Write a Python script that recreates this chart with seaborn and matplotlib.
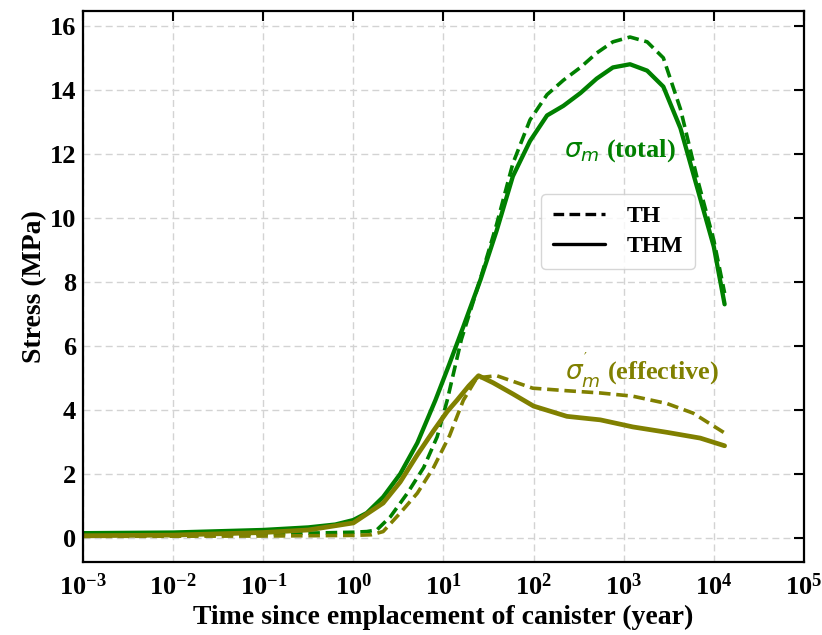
import matplotlib
matplotlib.use("Agg")
import matplotlib.pyplot as plt
import matplotlib.ticker as mticker
from matplotlib.lines import Line2D
import seaborn as sns

# ---- data (time in years, stress in MPa) ----
t_thm_total = [0.001, 0.01, 0.1, 0.316, 0.631, 1.0, 1.41, 2.14, 3.31, 5.13, 8.13,
               11.5, 16.6, 25.7, 38.9, 58.9, 91.2, 141, 214, 331, 501, 759, 1175,
               1820, 2754, 4266, 6457, 10000, 13183]
s_thm_total = [0.15, 0.17, 0.25, 0.33, 0.42, 0.56, 0.78, 1.28, 2.0, 2.97, 4.3,
               5.4, 6.6, 8.06, 9.6, 11.3, 12.4, 13.2, 13.5, 13.9, 14.35, 14.7, 14.8,
               14.6, 14.1, 12.8, 11.0, 9.1, 7.3]

t_th_total = [0.001, 0.01, 0.1, 0.316, 1.0, 1.41, 1.82, 2.57, 3.98, 6.03, 8.51,
              11.0, 15.8, 25.7, 38.9, 58.9, 91.2, 141, 214, 331, 501, 759,
              1175, 1820, 2754, 4266, 6457, 10000, 13183]
s_th_total = [0.1, 0.1, 0.12, 0.15, 0.18, 0.2, 0.25, 0.66, 1.4, 2.2, 3.16,
              4.3, 6.2, 8.1, 9.8, 11.7, 13.06, 13.85, 14.3, 14.7, 15.15, 15.5,
              15.65, 15.5, 15.0, 13.4, 11.3, 9.3, 7.65]

t_thm_eff = [0.001, 0.01, 0.1, 0.316, 1.0, 2.14, 3.31, 5.13, 7.76, 11.0, 14.1,
             19.1, 24.5, 35.5, 58.9, 100, 234, 550, 1259, 3020, 7079, 13183]
s_thm_eff = [0.07, 0.09, 0.17, 0.25, 0.47, 1.09, 1.75, 2.6, 3.35, 3.95, 4.3,
             4.75, 5.07, 4.85, 4.5, 4.12, 3.8, 3.69, 3.47, 3.3, 3.12, 2.88]

t_th_eff = [0.001, 0.1, 1.0, 1.58, 2.14, 3.31, 5.13, 7.76, 11.7, 16.6, 23.4,
            38.9, 97.7, 234, 550, 1259, 3020, 5888, 13183]
s_th_eff = [0.05, 0.06, 0.08, 0.1, 0.2, 0.78, 1.4, 2.2, 3.2, 4.3, 5.0,
            5.07, 4.68, 4.6, 4.53, 4.43, 4.2, 3.9, 3.28]

legend_labels = ["TH", "THM"]
x_label = "Time since emplacement of canister (year)"
y_label = "Stress (MPa)"

GREEN = "#008000"
OLIVE = "#808000"

sns.set_style("white")
plt.rcParams["font.family"] = ["Liberation Serif", "DejaVu Serif"]
plt.rcParams["font.weight"] = "bold"
plt.rcParams["mathtext.fontset"] = "custom"
plt.rcParams["mathtext.it"] = "DejaVu Sans:style=italic:weight=normal"
plt.rcParams["mathtext.rm"] = "DejaVu Sans:weight=normal"
plt.rcParams["mathtext.bf"] = "DejaVu Sans:weight=bold"
plt.rcParams["text.color"] = "black"
plt.rcParams["xtick.color"] = "black"
plt.rcParams["ytick.color"] = "black"
plt.rcParams["axes.labelcolor"] = "black"

fig = plt.figure(figsize=(8.22, 6.35), dpi=100)
ax = fig.add_axes([0.101, 0.115, 0.877, 0.868])

lw = 2.6
dash = (0, (3.2, 1.6))
sns.lineplot(x=t_th_total, y=s_th_total, ax=ax, color=GREEN, lw=lw,
             linestyle=dash, sort=False, estimator=None)
sns.lineplot(x=t_thm_total, y=s_thm_total, ax=ax, color=GREEN, lw=lw + 0.5,
             sort=False, estimator=None)
sns.lineplot(x=t_th_eff, y=s_th_eff, ax=ax, color=OLIVE, lw=lw,
             linestyle=dash, sort=False, estimator=None)
sns.lineplot(x=t_thm_eff, y=s_thm_eff, ax=ax, color=OLIVE, lw=lw + 0.8,
             sort=False, estimator=None)

ax.set_xscale("log")
ax.set_xlim(1e-3, 1e5)
ax.set_ylim(-0.75, 16.47)
ax.xaxis.set_major_locator(mticker.LogLocator(base=10, numticks=20))
ax.xaxis.set_minor_locator(mticker.NullLocator())
ax.set_yticks([0, 2, 4, 6, 8, 10, 12, 14, 16])

ax.grid(True, color="#d3d3d3", linestyle=(0, (5, 3)), linewidth=1.0)
for s in ax.spines.values():
    s.set_linewidth(1.6)
    s.set_color("black")
ax.tick_params(which="major", direction="in", length=7, width=1.5,
               top=True, right=True, labelsize=19)
ax.tick_params(axis="x", pad=8)
ax.tick_params(axis="y", pad=5)
for lab in ax.get_xticklabels() + ax.get_yticklabels():
    lab.set_fontweight("bold")

ax.set_xlabel(x_label, fontsize=20, fontweight="bold", labelpad=4)
ax.set_ylabel(y_label, fontsize=20, fontweight="bold", labelpad=2)

ax.text(912, 12.1, r"$\sigma_m$ (total)", color=GREEN, fontsize=19,
        fontweight="bold", ha="center", va="center")
ax.text(1585, 5.25, r"$\sigma^{'}_m$ (effective)", color=OLIVE, fontsize=19,
        fontweight="bold", ha="center", va="center")

handles = [Line2D([], [], color="black", lw=2.4, linestyle=dash),
           Line2D([], [], color="black", lw=2.4)]
leg = ax.legend(handles, legend_labels, loc="center",
                bbox_to_anchor=(0.742, 0.60), frameon=True,
                prop={"family": "Liberation Serif", "weight": "bold", "size": 17},
                handlelength=2.2, handletextpad=0.9, labelspacing=0.35,
                borderpad=0.5)
leg.get_frame().set_edgecolor("#cccccc")

fig.savefig("out.png", dpi=100)
